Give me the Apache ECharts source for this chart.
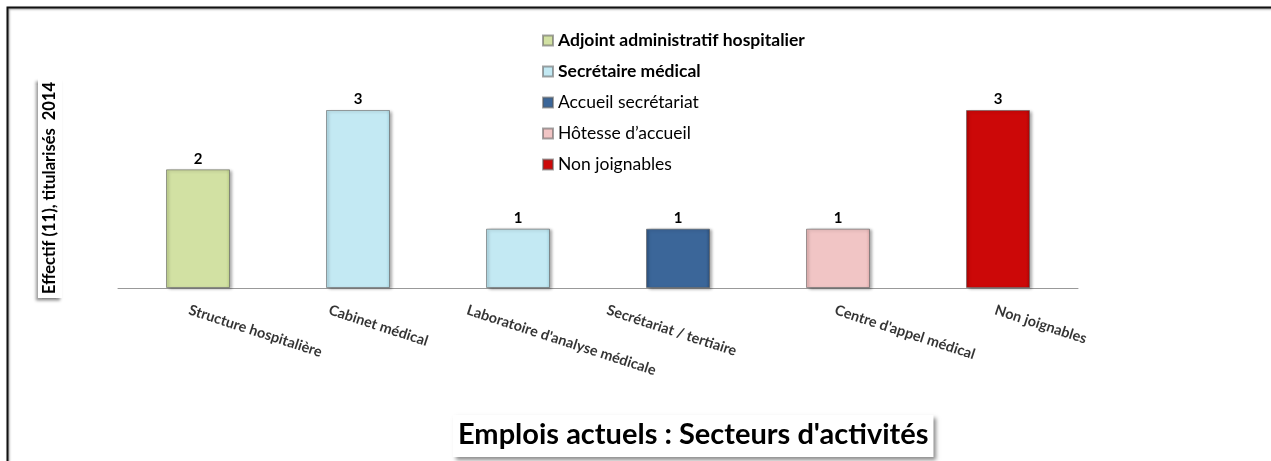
<!DOCTYPE html>
<html>
<head>
<meta charset="utf-8">
<script src="https://cdn.jsdelivr.net/npm/echarts@6/dist/echarts.min.js"></script>
<style>
  html, body { margin: 0; padding: 0; background: #fff; }
  #chart { width: 1271px; height: 461px; }
</style>
</head>
<body>
<div id="chart"></div>
<script>
// categories (secteurs)
var categories = ['Structure hospitalière', 'Cabinet médical', "Laboratoire d'analyse médicale",
                  'Secrétariat / tertiaire', "Centre d'appel médical", 'Non joignables'];
// one series per emploi, '-' where the bar is absent
var adjoint = [2, '-', '-', '-', '-', '-'];
var secretaire = ['-', 3, 1, '-', '-', '-'];
var accueil = ['-', '-', '-', 1, '-', '-'];
var hotesse = ['-', '-', '-', '-', 1, '-'];
var nonJoignables = ['-', '-', '-', '-', '-', 3];
var seriesNames = ['Adjoint administratif hospitalier', 'Secrétaire médical', 'Accueil secrétariat',
                   "Hôtesse d’accueil", 'Non joignables'];

// label nudges (layout only)
var labelNudge = [-6, -26, -48, -68, 0, 0];

var FONT = 'Lato, "Open Sans", sans-serif';

function bevel(c, edge) {
    return {
        type: 'linear', x: 0, y: 0, x2: 1, y2: 0,
        colorStops: [
            { offset: 0, color: edge },
            { offset: 0.06, color: c },
            { offset: 0.94, color: c },
            { offset: 1, color: edge }
        ]
    };
}

function barSeries(name, data, c, edge) {
    return {
        name: name,
        type: 'bar',
        stack: 'emplois',
        barWidth: 64,
        data: data,
        itemStyle: {
            color: bevel(c, edge),
            borderColor: 'rgba(90,90,90,0.55)',
            borderWidth: 1,
            shadowColor: 'rgba(0,0,0,0.35)',
            shadowBlur: 3,
            shadowOffsetX: 2,
            shadowOffsetY: 1
        },
        label: {
            show: true,
            position: 'top',
            distance: 3,
            color: '#000',
            fontFamily: FONT,
            fontWeight: 'bold',
            fontSize: 15
        }
    };
}

var myChart = echarts.init(document.getElementById('chart'));

var option = {
    animation: false,
    backgroundColor: '#fff',
    title: {
        text: "Emplois actuels : Secteurs d'activités",
        left: 453,
        top: 415,
        padding: [3, 5, 5, 5],
        backgroundColor: '#fff',
        shadowColor: 'rgba(0,0,0,0.45)',
        shadowBlur: 4,
        shadowOffsetX: 3,
        shadowOffsetY: 3,
        textStyle: {
            fontFamily: FONT,
            fontWeight: 'bold',
            fontSize: 29,
            lineHeight: 34,
            color: '#000'
        }
    },
    legend: {
        orient: 'vertical',
        left: 542,
        top: 30,
        padding: 0,
        itemWidth: 10,
        itemHeight: 10,
        itemGap: 10,
        icon: 'rect',
        data: [
            { name: seriesNames[0], textStyle: { fontWeight: 'bold' } },
            { name: seriesNames[1], textStyle: { fontWeight: 'bold' } },
            { name: seriesNames[2] },
            { name: seriesNames[3] },
            { name: seriesNames[4] }
        ],
        textStyle: {
            fontFamily: FONT,
            fontSize: 17.5,
            lineHeight: 21,
            color: '#000'
        }
    },
    grid: {
        left: 118,
        right: 193,
        top: 110,
        bottom: 173
    },
    xAxis: {
        type: 'category',
        data: categories,
        axisLine: { lineStyle: { color: '#999', width: 1 } },
        axisTick: { show: false },
        axisLabel: { show: false }
    },
    yAxis: {
        type: 'value',
        min: 0,
        max: 3,
        show: false
    },
    graphic: [
        {
            type: 'polyline',
            shape: { points: [[7.5, 461], [7.5, 7.5], [1271, 7.5]] },
            style: {
                fill: null,
                stroke: '#111',
                lineWidth: 2,
                shadowColor: 'rgba(0,0,0,0.4)',
                shadowBlur: 2,
                shadowOffsetX: 1,
                shadowOffsetY: 1
            }
        },
        {
            type: 'text',
            x: 50,
            y: 188,
            rotation: Math.PI / 2,
            style: {
                text: 'Effectif (11), titularisés  2014',
                fontFamily: FONT,
                fontWeight: 'bold',
                fontSize: 16.5,
                fill: '#000',
                align: 'center',
                verticalAlign: 'middle',
                backgroundColor: '#fff',
                padding: [4, 4, 3, 4],
                shadowColor: 'rgba(0,0,0,0.45)',
                shadowBlur: 3,
                shadowOffsetX: -2,
                shadowOffsetY: 3
            }
        }
    ],
    series: [
        barSeries(seriesNames[0], adjoint, '#d2e1a3', '#b9cc86'),
        barSeries(seriesNames[1], secretaire, '#c3e9f3', '#a6d3df'),
        barSeries(seriesNames[2], accueil, '#3b6699', '#2c4f7a'),
        barSeries(seriesNames[3], hotesse, '#f1c5c5', '#dca9a9'),
        barSeries(seriesNames[4], nonJoignables, '#cc0808', '#a80404'),
        {
            name: 'labels',
            type: 'scatter',
            symbolSize: 1,
            itemStyle: { color: 'transparent' },
            silent: true,
            data: categories.map(function (c, i) {
                return { value: [c, 0], label: { position: [labelNudge[i], 15] } };
            }),
            label: {
                show: true,
                formatter: function (p) { return p.value[0]; },
                rotate: -18,
                align: 'left',
                verticalAlign: 'top',
                color: '#000',
                fontFamily: FONT,
                fontWeight: 'bold',
                fontSize: 14.5
            }
        }
    ]
};

myChart.setOption(option);
</script>
</body>
</html>
